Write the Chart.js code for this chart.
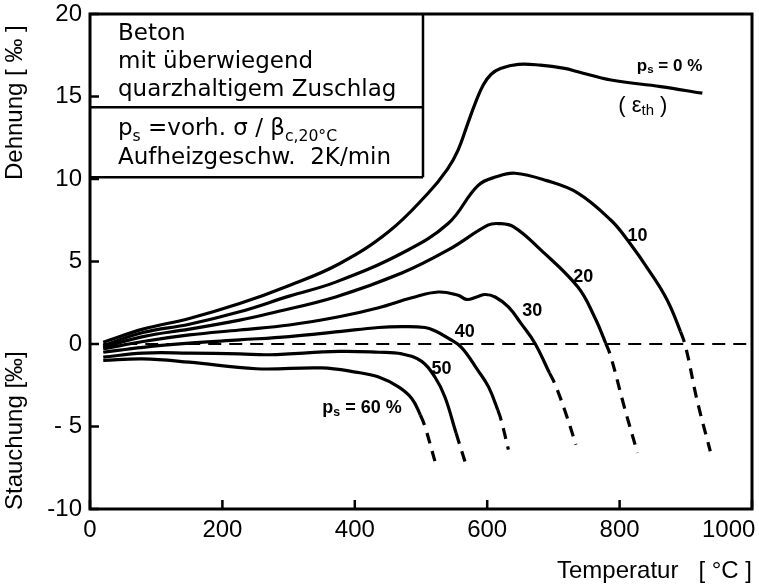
<!DOCTYPE html>
<html><head><meta charset="utf-8">
<script src="https://cdn.jsdelivr.net/npm/chart.js@4"></script>
<style>html,body{margin:0;padding:0;background:#fff}canvas{display:block}</style>
</head><body>
<canvas id="c" width="759" height="587"></canvas>
<script>
// ---------- data (temperature °C, strain ‰) ----------
const T_P0  = [20, 80, 150, 226, 301, 376, 451, 511, 540, 556, 571, 582, 594, 606, 620, 647, 680, 717, 737, 787, 862, 925];
const E_P0  = [0.1, 0.9, 1.55, 2.45, 3.55, 4.85, 6.8, 9.15, 10.6, 11.75, 13.4, 14.6, 15.7, 16.35, 16.7, 16.95, 16.9, 16.7, 16.5, 16.0, 15.6, 15.2];

const T_P10 = [20, 80, 150, 226, 301, 371, 471, 541, 586, 615, 642, 690, 737, 787, 812, 847, 872, 892, 900, 917, 937];
const E_P10 = [-0.1, 0.7, 1.2, 1.95, 2.9, 3.75, 5.5, 7.3, 9.6, 10.15, 10.35, 9.9, 9.15, 7.5, 6.3, 4.3, 2.65, 0.75, -0.2, -3.4, -6.5];

const T_P20 = [20, 80, 150, 226, 271, 371, 471, 541, 601, 617, 640, 681, 737, 762, 779, 787, 807, 827];
const E_P20 = [-0.2, 0.45, 0.9, 1.45, 1.85, 2.85, 4.3, 5.7, 7.2, 7.3, 7.1, 5.7, 3.45, 1.65, 0.05, -0.8, -3.8, -6.6];

const T_P30 = [20, 80, 150, 226, 301, 376, 436, 486, 526, 556, 569, 584, 597, 612, 632, 651, 672, 694, 702, 717, 734];
const E_P30 = [-0.3, 0.15, 0.55, 0.85, 1.15, 1.65, 2.2, 2.8, 3.15, 2.95, 2.7, 2.85, 3.0, 2.85, 2.25, 1.25, 0.05, -1.75, -2.4, -4.0, -6.1];

const T_P40 = [20, 80, 150, 226, 301, 376, 436, 471, 506, 521, 541, 561, 586, 602, 616, 621, 632];
const E_P40 = [-0.5, -0.2, 0.05, 0.25, 0.45, 0.75, 1.0, 1.05, 1.0, 0.8, 0.35, -0.2, -1.6, -2.6, -4.0, -4.6, -6.4];

const T_P50 = [20, 80, 150, 226, 271, 376, 436, 471, 501, 521, 536, 553, 569];
const E_P50 = [-0.8, -0.55, -0.55, -0.6, -0.65, -0.45, -0.5, -0.6, -1.05, -2.0, -3.2, -5.4, -7.45];

const T_P60 = [20, 80, 150, 251, 350, 401, 436, 466, 486, 499, 506, 521];
const E_P60 = [-1.0, -0.9, -1.1, -1.5, -1.45, -1.7, -2.0, -2.6, -3.3, -4.3, -5.0, -7.1];

// temperature above which each curve is drawn dashed
const DASH_FROM = [Infinity, 892, 779, 694, 616, 553, 499];

const ZERO_T = [20, 1000];
const ZERO_E = [0, 0];

const X_TICKS = [0, 200, 400, 600, 800, 1000];
const X_TICK_LABELS = ['0', '200', '400', '600', '800', '1000'];
const Y_TICKS = [-10, -5, 0, 5, 10, 15, 20];
const Y_TICK_LABELS = ['-10', '- 5', '0', '5', '10', '15', '20'];
const CURVE_LABELS = ['10', '20', '30', '40', '50'];

// ---------- chart ----------
const seriesT = [T_P0, T_P10, T_P20, T_P30, T_P40, T_P50, T_P60];
const seriesE = [E_P0, E_P10, E_P20, E_P30, E_P40, E_P50, E_P60];

const datasets = [{
  data: ZERO_T.map((t, i) => ({x: t, y: ZERO_E[i]})),
  borderColor: '#000', borderWidth: 2, borderDash: [13, 8],
  pointRadius: 0, showLine: true, tension: 0
}];
seriesT.forEach((T, k) => {
  datasets.push({
    data: T.map((t, i) => ({x: t, y: seriesE[k][i]})),
    borderColor: '#000', borderWidth: 3.2, pointRadius: 0, showLine: true,
    tension: 0.4, borderCapStyle: 'butt', borderJoinStyle: 'round',
    segment: { borderDash: c => (c.p0.parsed.x >= DASH_FROM[k] ? [11, 8] : undefined) }
  });
});

function rich(ctx, x, y, parts, size, family, weight) {
  let cx = x;
  parts.forEach(p => {
    const s = p.sub ? size * 0.68 : size;
    ctx.font = `${weight || 'normal'} ${s}px ${family}`;
    ctx.fillText(p.t, cx, y + (p.sub ? size * 0.25 : 0));
    cx += ctx.measureText(p.t).width;
  });
}

const overlay = {
  id: 'overlay',
  afterDraw(chart) {
    const {ctx, chartArea: a, scales: {x, y}} = chart;
    ctx.save();
    ctx.fillStyle = '#000';
    ctx.strokeStyle = '#000';
    // frame
    ctx.lineWidth = 3;
    ctx.strokeRect(a.left, a.top, a.right - a.left, a.bottom - a.top);
    // inward tick marks
    ctx.lineWidth = 2.5;
    ctx.beginPath();
    Y_TICKS.forEach(v => { const py = y.getPixelForValue(v); ctx.moveTo(a.left, py); ctx.lineTo(a.left + 9, py); });
    X_TICKS.forEach(v => { const px = x.getPixelForValue(v); ctx.moveTo(px, a.bottom); ctx.lineTo(px, a.bottom - 9); });
    ctx.stroke();

    // info box
    const bx1 = x.getPixelForValue(503), bDiv = y.getPixelForValue(14.35), bBot = y.getPixelForValue(10.1);
    ctx.lineWidth = 2.5;
    ctx.beginPath();
    ctx.moveTo(a.left, bDiv); ctx.lineTo(bx1, bDiv);
    ctx.moveTo(a.left, bBot); ctx.lineTo(bx1, bBot);
    ctx.moveTo(bx1, a.top); ctx.lineTo(bx1, bBot);
    ctx.stroke();
    const fam = '"DejaVu Sans", "Liberation Sans", sans-serif';
    ctx.textAlign = 'left'; ctx.textBaseline = 'alphabetic';
    const tx = a.left + 28;
    ctx.font = `23px ${fam}`;
    ctx.fillText('Beton', tx, 40);
    ctx.fillText('mit überwiegend', tx, 68);
    ctx.fillText('quarzhaltigem Zuschlag', tx, 96);
    rich(ctx, tx, 135, [{t: 'p'}, {t: 's', sub: 1}, {t: ' =vorh. σ / β'}, {t: 'c,20°C', sub: 1}], 23, fam);
    ctx.font = `23px ${fam}`;
    ctx.fillText('Aufheizgeschw.  2K/min', tx, 164);

    // curve labels
    const lf = '"Liberation Sans", Arial, sans-serif';
    ctx.textAlign = 'center'; ctx.textBaseline = 'middle';
    ctx.font = `bold 18px ${lf}`;
    const pos = [[827, 6.55], [745, 4.05], [668, 2.0], [566, 0.73], [531, -1.5]];
    CURVE_LABELS.forEach((s, i) => ctx.fillText(s, x.getPixelForValue(pos[i][0]), y.getPixelForValue(pos[i][1])));
    ctx.textAlign = 'left';
    rich(ctx, x.getPixelForValue(826), y.getPixelForValue(16.85), [{t: 'p'}, {t: 's', sub: 1}, {t: ' = 0 %'}], 17, lf, 'bold');
    rich(ctx, x.getPixelForValue(798), y.getPixelForValue(14.45), [{t: '( ε'}, {t: 'th', sub: 1}, {t: ' )'}], 22, lf);
    rich(ctx, x.getPixelForValue(351), y.getPixelForValue(-3.9), [{t: 'p'}, {t: 's', sub: 1}, {t: ' = 60 %'}], 18, lf, 'bold');

    // axis titles
    ctx.textBaseline = 'alphabetic';
    ctx.font = `24px ${lf}`;
    ctx.textAlign = 'right';
    ctx.fillText('Temperatur   [ °C ]', a.right, 578);
    ctx.textAlign = 'left';
    ctx.save(); ctx.translate(22, 180); ctx.rotate(-Math.PI / 2); ctx.fillText('Dehnung [ ‰ ]', 0, 0); ctx.restore();
    ctx.save(); ctx.translate(22, 510); ctx.rotate(-Math.PI / 2); ctx.fillText('Stauchung [‰]', 0, 0); ctx.restore();
    ctx.restore();
  }
};

new Chart(document.getElementById('c'), {
  type: 'scatter',
  data: { datasets },
  options: {
    responsive: false, animation: false, devicePixelRatio: 1,
    layout: { padding: { top: 14, right: 7, left: 0, bottom: 0 }, autoPadding: false },
    plugins: { legend: { display: false }, tooltip: { enabled: false } },
    scales: {
      x: {
        type: 'linear', min: 0, max: 1000,
        afterBuildTicks: s => { s.ticks = X_TICKS.map(v => ({value: v})); },
        afterFit: s => { s.height = 78; s.paddingLeft = 0; s.paddingRight = 0; },
        grid: { display: false, drawTicks: false }, border: { display: false },
        ticks: {
          autoSkip: false, maxRotation: 0, padding: 7, color: '#000',
          font: { family: '"Liberation Sans", Arial, sans-serif', size: 24 },
          callback: v => { const i = X_TICKS.indexOf(v); return i === X_TICKS.length - 1 ? X_TICK_LABELS[i] + '       ' : X_TICK_LABELS[i]; }
        }
      },
      y: {
        type: 'linear', min: -10, max: 20,
        afterBuildTicks: s => { s.ticks = Y_TICKS.map(v => ({value: v})); },
        afterFit: s => { s.width = 90; s.paddingTop = 0; s.paddingBottom = 0; },
        grid: { display: false, drawTicks: false }, border: { display: false },
        ticks: {
          autoSkip: false, padding: 8, color: '#000',
          font: { family: '"Liberation Sans", Arial, sans-serif', size: 24 },
          callback: v => Y_TICK_LABELS[Y_TICKS.indexOf(v)]
        }
      }
    }
  },
  plugins: [overlay]
});
</script>
</body></html>
